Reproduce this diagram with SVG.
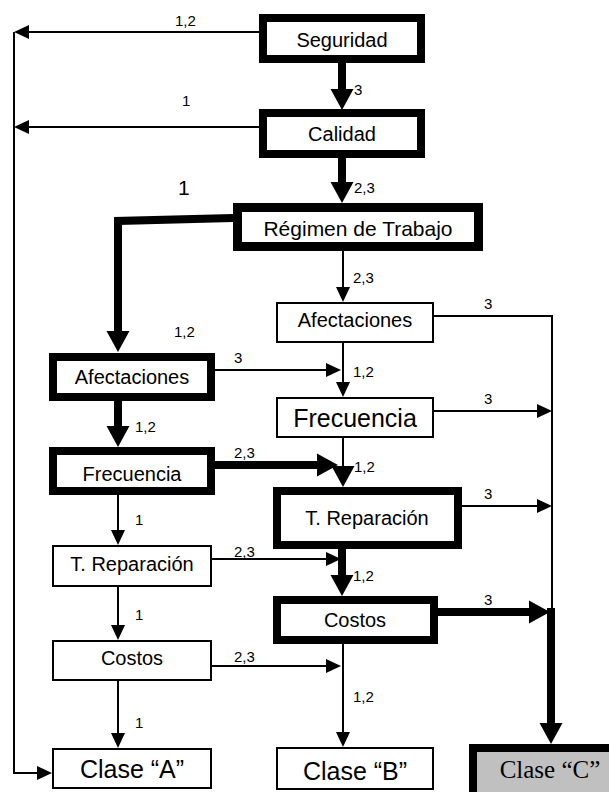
<svg xmlns="http://www.w3.org/2000/svg" width="609" height="792" viewBox="0 0 609 792">
  <style>
    .box { fill: #ffffff; stroke: #000000; stroke-width: 2; }
    .bold { fill: #ffffff; stroke: #000000; stroke-width: 8; }
    .grey { fill: #c0c0c0; stroke: #000000; stroke-width: 8; }
    .t { font-family: "Liberation Sans", Arial, sans-serif; font-size: 20px; text-anchor: middle; fill: #000; }
    .tl { font-family: "Liberation Sans", Arial, sans-serif; font-size: 25px; text-anchor: middle; fill: #000; }
    .ts { font-family: "Liberation Serif", "Times New Roman", serif; font-size: 25px; text-anchor: middle; fill: #000; }
    .lbl { font-family: "Liberation Sans", Arial, sans-serif; font-size: 15px; fill: #000; }
    .thin { fill: none; stroke: #000; stroke-width: 2; }
    .thick { fill: none; stroke: #000; stroke-width: 8; }
  </style>
  <defs>
    <!-- arrowheads: lines end at the base of the head; head extends beyond -->
    <marker id="ah" markerUnits="userSpaceOnUse" markerWidth="15" markerHeight="14" refX="0" refY="7" orient="auto" overflow="visible">
      <path d="M0,0 L15,7 L0,14 Z" fill="#000"/>
    </marker>
    <marker id="ahb" markerUnits="userSpaceOnUse" markerWidth="21" markerHeight="23" refX="0" refY="11.5" orient="auto" overflow="visible">
      <path d="M0,0 L21,11.5 L0,23 Z" fill="#000"/>
    </marker>
  </defs>

  <g id="connectors">
    <!-- left return bus to Clase A -->
    <path class="thin" d="M259,32 H29" marker-end="url(#ah)"/>
    <path class="thin" d="M259,127 H29" marker-end="url(#ah)"/>
    <path class="thin" d="M14,32 V773 H37" marker-end="url(#ah)"/>

    <!-- main spine -->
    <path class="thick" d="M342,63 V89" marker-end="url(#ahb)"/>
    <path class="thick" d="M342,158 V182" marker-end="url(#ahb)"/>
    <path class="thin" d="M343,251 V287" marker-end="url(#ah)"/>
    <path class="thin" d="M343,343 V382" marker-end="url(#ah)"/>
    <path class="thin" d="M343,438 V466" marker-end="url(#ahb)"/>
    <path class="thick" d="M342,549 V575" marker-end="url(#ahb)"/>
    <path class="thin" d="M343,644 V732" marker-end="url(#ah)"/>

    <!-- right collector to Clase C -->
    <path class="thin" d="M434,316 H552 V612"/>
    <path class="thin" d="M434,411 H537" marker-end="url(#ah)"/>
    <path class="thin" d="M462,506 H537" marker-end="url(#ah)"/>
    <path class="thick" d="M438,612 H529" marker-end="url(#ahb)"/>
    <path class="thick" d="M551,608 V723" marker-end="url(#ahb)"/>

    <!-- left chain -->
    <path class="thick" d="M233,218 L118,221 V331" marker-end="url(#ahb)"/>
    <path class="thick" d="M118,401 V426" marker-end="url(#ahb)"/>
    <path class="thin" d="M118,495 V530" marker-end="url(#ah)"/>
    <path class="thin" d="M118,587 V625" marker-end="url(#ah)"/>
    <path class="thin" d="M118,681 V733" marker-end="url(#ah)"/>

    <!-- cross links left to right -->
    <path class="thin" d="M214,370 H326" marker-end="url(#ah)"/>
    <path class="thick" d="M214,465 H317" marker-end="url(#ahb)"/>
    <path class="thin" d="M212,559 H326" marker-end="url(#ah)"/>
    <path class="thin" d="M212,666 H326" marker-end="url(#ah)"/>
  </g>

  <g id="labels">
    <text class="lbl" x="175" y="26">1,2</text>
    <text class="lbl" x="182" y="106">1</text>
    <text class="lbl" x="178" y="195" style="font-size:21px">1</text>
    <text class="lbl" x="354" y="95">3</text>
    <text class="lbl" x="354" y="193">2,3</text>
    <text class="lbl" x="353" y="283">2,3</text>
    <text class="lbl" x="484" y="309">3</text>
    <text class="lbl" x="353" y="377">1,2</text>
    <text class="lbl" x="484" y="404">3</text>
    <text class="lbl" x="354" y="472">1,2</text>
    <text class="lbl" x="484" y="499">3</text>
    <text class="lbl" x="353" y="581">1,2</text>
    <text class="lbl" x="484" y="605">3</text>
    <text class="lbl" x="353" y="702">1,2</text>
    <text class="lbl" x="174" y="337">1,2</text>
    <text class="lbl" x="234" y="363">3</text>
    <text class="lbl" x="135" y="432">1,2</text>
    <text class="lbl" x="234" y="458">2,3</text>
    <text class="lbl" x="135" y="525">1</text>
    <text class="lbl" x="234" y="557">2,3</text>
    <text class="lbl" x="135" y="620">1</text>
    <text class="lbl" x="234" y="662">2,3</text>
    <text class="lbl" x="135" y="728">1</text>
  </g>

  <g id="seguridad"><rect class="bold" x="263" y="18" width="158" height="41"/><text class="t" x="342" y="47">Seguridad</text></g>
  <g id="calidad"><rect class="bold" x="263" y="113" width="158" height="41"/><text class="t" x="342" y="141">Calidad</text></g>
  <g id="regimen"><rect class="bold" x="237.5" y="207.5" width="241" height="39" style="stroke-width:9"/><text class="t" x="358" y="236" style="font-size:21px">Régimen de Trabajo</text></g>

  <g id="afectaciones-r"><rect class="box" x="277" y="303" width="156" height="39"/><text class="t" x="355" y="327">Afectaciones</text></g>
  <g id="frecuencia-r"><rect class="box" x="277" y="398" width="156" height="39"/><text class="tl" x="355" y="427">Frecuencia</text></g>
  <g id="reparacion-r"><rect class="bold" x="277" y="491" width="181" height="54"/><text class="t" x="367" y="525">T. Reparación</text></g>
  <g id="costos-r"><rect class="bold" x="277" y="600" width="157" height="40"/><text class="t" x="355" y="627">Costos</text></g>
  <g id="clase-b"><rect class="box" x="277" y="748" width="156" height="41"/><text class="tl" x="355" y="780">Clase “B”</text></g>
  <g id="clase-c"><rect class="grey" x="473" y="748" width="140" height="50"/><text class="ts" x="550" y="778">Clase “C”</text></g>

  <g id="afectaciones-l"><rect class="bold" x="53" y="357" width="158" height="40"/><text class="t" x="132" y="384">Afectaciones</text></g>
  <g id="frecuencia-l"><rect class="bold" x="53" y="451" width="158" height="40"/><text class="t" x="132" y="481">Frecuencia</text></g>
  <g id="reparacion-l"><rect class="box" x="53" y="546" width="158" height="40"/><text class="t" x="132" y="571">T. Reparación</text></g>
  <g id="costos-l"><rect class="box" x="53" y="641" width="158" height="39"/><text class="t" x="132" y="665">Costos</text></g>
  <g id="clase-a"><rect class="box" x="53" y="749" width="158" height="39"/><text class="tl" x="132" y="778">Clase “A”</text></g>
</svg>
